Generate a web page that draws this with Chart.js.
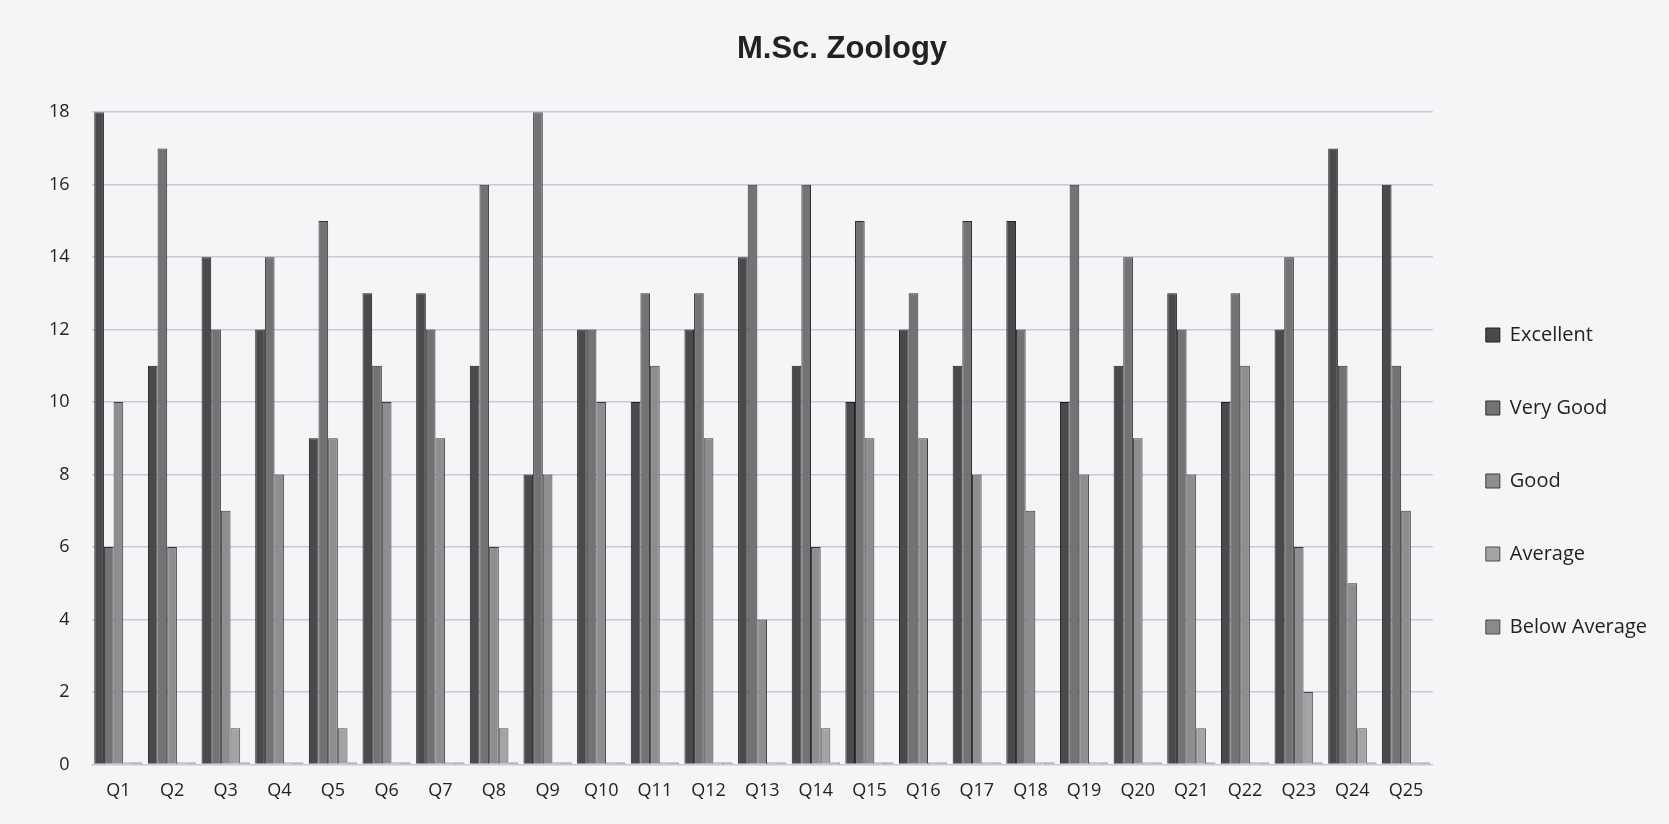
<!DOCTYPE html>
<html>
<head>
<meta charset="utf-8">
<script src="https://cdn.jsdelivr.net/npm/chart.js@4/dist/chart.umd.min.js"></script>
<style>
  html, body { margin: 0; padding: 0; background: #f6f4f7; }
  #wrap { width: 1669px; height: 824px; }
</style>
</head>
<body>
<div id="wrap"><canvas id="chart" width="1669" height="824"></canvas></div>
<script>
const questions = ['Q1','Q2','Q3','Q4','Q5','Q6','Q7','Q8','Q9','Q10','Q11','Q12','Q13',
  'Q14','Q15','Q16','Q17','Q18','Q19','Q20','Q21','Q22','Q23','Q24','Q25'];

const excellent    = [18, 11, 14, 12,  9, 13, 13, 11,  8, 12, 10, 12, 14, 11, 10, 12, 11, 15, 10, 11, 13, 10, 12, 17, 16];
const veryGood     = [ 6, 17, 12, 14, 15, 11, 12, 16, 18, 12, 13, 13, 16, 16, 15, 13, 15, 12, 16, 14, 12, 13, 14, 11, 11];
const good         = [10,  6,  7,  8,  9, 10,  9,  6,  8, 10, 11,  9,  4,  6,  9,  9,  8,  7,  8,  9,  8, 11,  6,  5,  7];
const average      = [ 0,  0,  1,  0,  1,  0,  0,  1,  0,  0,  0,  0,  0,  1,  0,  0,  0,  0,  0,  0,  1,  0,  2,  1,  0];
const belowAverage = [ 0,  0,  0,  0,  0,  0,  0,  0,  0,  0,  0,  0,  0,  0,  0,  0,  0,  0,  0,  0,  0,  0,  0,  0,  0];

const yTicks = [0, 2, 4, 6, 8, 10, 12, 14, 16, 18];

function series(label, data, fill, edge) {
  return {
    label: label,
    data: data,
    backgroundColor: fill,
    borderColor: edge,
    borderWidth: 1,
    minBarLength: 2
  };
}

new Chart(document.getElementById('chart'), {
  type: 'bar',
  data: {
    labels: questions,
    datasets: [
      series('Excellent', excellent, '#4a4a4c', '#1e1e20'),
      series('Very Good', veryGood, '#737375', '#2e2e30'),
      series('Good', good, '#8e8e90', '#3a3a3c'),
      series('Average', average, '#a4a4a6', '#4a4a4c'),
      series('Below Average', belowAverage, '#8a8a8c', '#4a4a4c')
    ]
  },
  options: {
    responsive: false,
    animation: false,
    layout: { padding: { left: 27, right: 12, top: 10, bottom: 14 } },
    datasets: {
      bar: { categoryPercentage: 0.9, barPercentage: 1.0 }
    },
    plugins: {
      title: {
        display: true,
        text: 'M.Sc. Zoology',
        color: '#222',
        font: { family: 'Liberation Sans', size: 31, weight: 'bold' },
        padding: { top: 21, bottom: 44 }
      },
      legend: {
        position: 'right',
        align: 'center',
        title: { display: true, text: ' ', font: { size: 10 }, padding: { top: 65, bottom: 65 } },
        labels: {
          color: '#222',
          font: { family: 'Open Sans', size: 20 },
          boxWidth: 14,
          boxHeight: 14,
          padding: 53
        }
      },
      tooltip: { enabled: false }
    },
    scales: {
      x: {
        grid: { display: false },
        border: { color: '#c8c8d0' },
        ticks: { color: '#222', font: { family: 'Open Sans', size: 18 }, padding: 8 }
      },
      y: {
        min: 0,
        max: 18,
        afterBuildTicks: axis => { axis.ticks = yTicks.map(v => ({ value: v })); },
        grid: { color: '#c9c8d8', lineWidth: 1.5, drawTicks: false },
        border: { display: false },
        ticks: { color: '#222', font: { family: 'Open Sans', size: 18 }, padding: 22 }
      }
    }
  }
});
</script>
</body>
</html>
